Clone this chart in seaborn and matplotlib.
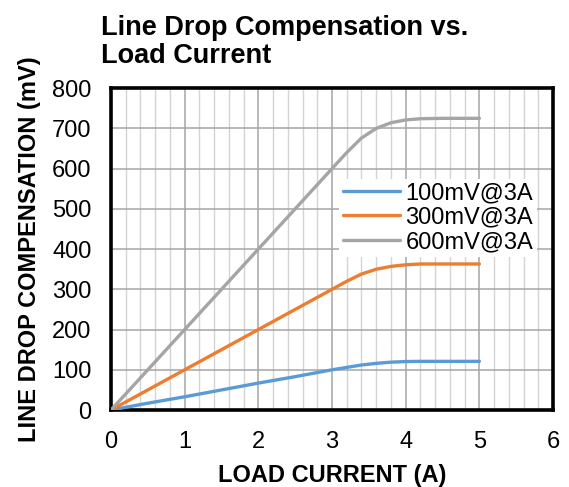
import numpy as np
import pandas as pd
import seaborn as sns
import matplotlib.pyplot as plt
from matplotlib.ticker import MultipleLocator

# Data
load_current = [0, 0.5, 1, 1.5, 2, 2.5, 3, 3.2, 3.4, 3.6, 3.8, 4.0, 4.2, 4.5, 5]
drop_100mv = [0, 17, 33, 50, 67, 83, 100, 106, 112, 116, 119, 120.5, 121, 121, 121]
drop_300mv = [0, 50, 100, 150, 200, 250, 300, 320, 338, 350, 357, 361, 363, 363, 363]
drop_600mv = [0, 100, 200, 300, 400, 500, 600, 640, 676, 700, 714, 721, 724, 725, 725]
series_names = ["100mV@3A", "300mV@3A", "600mV@3A"]
colors = ["#5B9BD5", "#ED7D31", "#A5A5A5"]

df = pd.DataFrame({
    "current": load_current * 3,
    "drop": drop_100mv + drop_300mv + drop_600mv,
    "setting": [n for n in series_names for _ in load_current],
})

sns.set_style("white")
plt.rcParams['font.family'] = ['Liberation Sans', 'DejaVu Sans']
plt.rcParams['text.color'] = 'black'
plt.rcParams['axes.labelcolor'] = 'black'
plt.rcParams['xtick.color'] = 'black'
plt.rcParams['ytick.color'] = 'black'

fig = plt.figure(figsize=(5.69, 4.87), dpi=100)
ax = fig.add_axes([0.195, 0.158, 0.777, 0.661])

sns.lineplot(data=df, x="current", y="drop", hue="setting", palette=colors,
             linewidth=2.4, ax=ax, zorder=3)

ax.set_xlim(0, 6)
ax.set_ylim(0, 800)
ax.xaxis.set_major_locator(MultipleLocator(1))
ax.xaxis.set_minor_locator(MultipleLocator(0.2))
ax.yaxis.set_major_locator(MultipleLocator(100))

ax.grid(which="major", color="#A6A6A6", linewidth=1.1, zorder=0)
ax.grid(which="minor", axis="x", color="#D4D4D4", linewidth=1.0, zorder=0)
ax.set_axisbelow(True)
ax.tick_params(which="both", length=0, labelsize=17)
ax.tick_params(axis="y", pad=14)
ax.tick_params(axis="x", pad=15)

for sp in ax.spines.values():
    sp.set_visible(True)
    sp.set_color("black")
    sp.set_linewidth(2.6)

ax.set_xlabel("LOAD CURRENT (A)", fontsize=17, fontweight="bold", labelpad=8)
ax.set_ylabel("LINE DROP COMPENSATION (mV)", fontsize=17, fontweight="bold", labelpad=8)

leg = ax.legend(loc="upper right", bbox_to_anchor=(0.99, 0.755), fontsize=17,
                frameon=True, fancybox=False, framealpha=1, edgecolor="white",
                handlelength=2.4, labelspacing=0.1, borderpad=0.15, handletextpad=0.25)
leg.get_frame().set_linewidth(0)

fig.text(0.178, 0.97, "Line Drop Compensation vs.\nLoad Current", ha="left", va="top",
         fontsize=19.5, fontweight="bold", linespacing=1.1)

fig.savefig("out.png", dpi=100)
